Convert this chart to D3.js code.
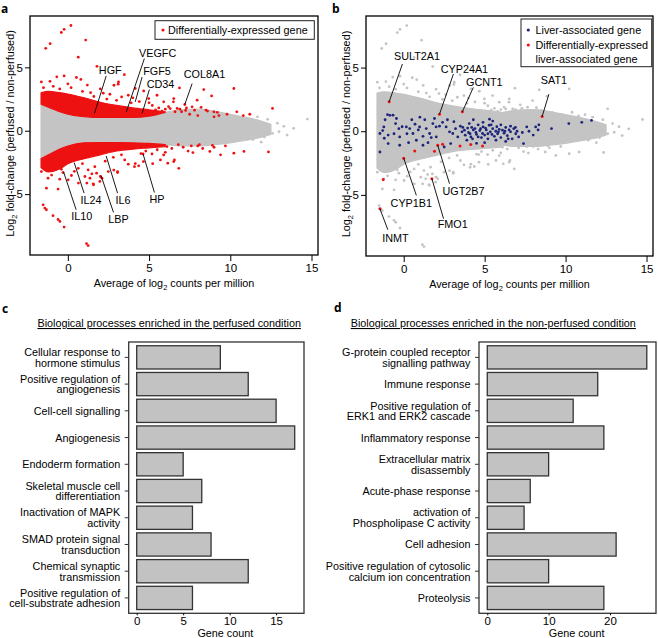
<!DOCTYPE html>
<html><head><meta charset="utf-8">
<script src="https://cdn.jsdelivr.net/npm/d3@7"></script>
<style>
body{margin:0;background:#fff;}
svg text{font-family:"Liberation Sans",Arial,sans-serif;fill:#000;}
</style></head><body>
<svg id="chart" width="658" height="638"></svg>
<script>
// ---------------- DATA ----------------
// Dense cloud of non-DE genes (envelope of log2FC vs average log2 CPM)
const coreX     = [-1.65,-1.2,-0.4,0.6,1.7,3,4,5,6,7,8,9,10,11,11.8,12.5];
const coreUpper = [2.1,1.85,1.45,1.18,1.05,1.05,1.05,1.15,1.45,1.65,1.7,1.55,1.3,1.05,0.8,0.5];
const coreLower = [-2.2,-1.9,-1.38,-1.0,-0.93,-0.93,-0.95,-1.0,-1.1,-1.2,-1.2,-1.1,-0.95,-0.75,-0.55,-0.3];
// Dense band of up-regulated DE genes
const upX   = [-1.65,-1.2,-0.5,0,1,2,3,4,5,6];
const upTop = [3.0,3.1,3.0,2.9,2.6,2.25,2.0,1.8,1.65,1.5];
const upBot = [2.1,1.85,1.5,1.3,1.12,1.05,1.05,1.05,1.15,1.45];
// Dense band of down-regulated DE genes
const loX   = [-1.65,-1.2,-0.5,0,1,2,3,4,5,6];
const loTop = [-2.2,-1.9,-1.45,-1.2,-0.95,-0.93,-0.93,-0.95,-1.0,-1.1];
const loBot = [-2.9,-3.25,-3.0,-2.6,-2.2,-1.9,-1.6,-1.45,-1.35,-1.25];
// Sparse DE genes (x: avg log2 CPM, y: log2 FC)
const deX = [0.19,-0.23,-0.4,1.1,-1.09,-1.36,0.64,1.79,3.48,-0.68,-0.23,0.53,0.8,-1.63,3.1,2.84,3.12,4.15,4.67,
  2.18,2.59,3.72,3.31,4.98,5.49,5.9,6.52,6.5,6.87,8.37,10.22,8.85,7.2,7.96,7.65,8.2,8.5,8.99,9.3,7.25,6.73,6.2,12.6,10.4,
  -1.5,-0.9,-0.5,0.2,0.9,1.4,1.6,2.4,3.0,3.9,4.4,5.2,5.6,1.2,-1.1,0.0,2.0,4.0,5.0,6.0,7.0,7.5,8.0,9.8,9.0,10.8,11.2,
  1.15,1.25,-1.52,-1.42,-1.32,-0.91,-0.6,-0.49,-0.23,
  -1.63,-1.22,-0.5,-0.6,-1.32,0.02,0.22,1.05,1.36,1.56,1.77,1.97,2.49,3.06,1.66,0.64,1.25,-0.4,-0.91,1.48,2.1,1.17,1.58,0.65,2.0,2.83,3.06,
  3.72,4.1,4.15,4.36,4.65,5.22,5.18,5.7,5.9,6.15,6.52,6.56,6.83,7.7,8.74,9.4,10.22,10.84,12.35,4.63,
  -1.0,-0.3,0.4,0.9,2.3,2.8,3.3,3.5,4.5,4.8,5.5,6.0,6.4,7.1,7.4,8.0,8.3,9.0,9.7,
  5.4,5.8,6.3,6.6,6.9,7.3,7.8,8.6,9.2,5.6,6.1,6.8,7.6,8.1,8.9];
const deY = [8.3,8.0,7.75,7.15,6.87,6.5,5.8,5.08,4.42,4.25,4.32,4.2,4.05,3.85,3.67,3.59,3.85,3.33,3.14,
  2.96,2.88,2.8,2.67,2.54,2.8,2.28,2.54,2.28,3.38,3.25,3.33,2.75,2.07,2.41,1.89,1.85,1.63,1.49,1.2,1.6,1.76,1.9,1.76,1.49,
  3.4,3.5,3.3,3.4,3.1,3.0,2.7,2.5,2.4,2.2,2.3,2.0,1.8,3.6,3.9,3.7,3.3,2.6,2.2,1.7,1.5,1.3,1.2,1.3,1.1,1.2,1.3,
  -8.9,-9.06,-5.84,-6.1,-6.23,-6.7,-7.0,-7.15,-7.6,
  -3.22,-3.74,-3.82,-4.6,-4.53,-3.87,-3.53,-3.61,-3.74,-4.19,-3.35,-4.0,-3.22,-3.22,-2.83,-2.96,-3.09,-3.04,-3.09,-3.4,-3.74,-4.13,-4.26,-4.13,-3.61,-3.1,-3.3,
  -2.64,-2.83,-2.59,-2.77,-2.43,-2.6,-1.83,-2.3,-1.91,-2.56,-2.43,-2.3,-2.96,-1.72,-1.63,-1.9,-1.77,-1.63,-1.67,-1.83,
  -3.5,-3.3,-3.2,-2.6,-2.4,-2.1,-1.9,-2.3,-1.8,-1.6,-1.5,-1.7,-1.4,-1.3,-1.6,-1.2,-1.4,-1.3,-1.2,
  1.65,1.55,1.75,1.5,1.7,1.8,1.62,1.55,1.45,-1.15,-1.25,-1.1,-1.2,-1.1,-1.15];
// Sparse non-DE genes at high expression
const grayX = [11.67,12.07,13.0,13.5,13.9,14.75,12.6,12.3,11.4,12.9,11.9,13.3,12.1,11.2];
const grayY = [1.1,0.45,-0.08,-0.34,0.19,0.92,-0.2,0.9,-0.7,0.6,-0.9,0.35,-0.5,0.3];
// Liver-associated genes
const liverX = [-1.47,-1.3,-1.23,-1.0,-0.85,-0.66,-0.96,-1.2,-0.5,-0.45,-0.25,-0.3,-0.6,-0.96,-0.25,-1.47,-0.1,-1.15,
  0.16,0.37,0.2,0.57,0.78,0.98,1.19,1.39,1.6,1.19,1.5,0.5,0.9,1.9,2.0,2.21,2.01,1.8,0.3,1.0,0.7,1.3,1.7,
  2.62,2.83,2.5,2.9,3.03,3.34,3.2,3.75,3.8,4.05,3.9,3.5,2.4,2.7,3.1,3.6,3.95,4.2,
  4.1,4.25,4.4,4.46,4.6,4.7,4.87,4.9,5.0,5.1,5.2,5.28,5.35,5.5,5.6,5.69,5.75,5.8,5.9,6.0,6.1,6.2,6.3,6.4,6.51,6.6,6.7,6.8,6.92,7.0,7.1,
  4.3,4.9,5.5,5.0,4.5,6.3,5.3,4.6,6.0,5.7,6.9,7.33,7.4,7.6,7.74,8.0,8.15,8.35,8.3,9.13,10.2,11.0,11.6,5.2,4.8,6.6,
  4.0,4.3,4.5,4.75,5.05,5.45,5.85,6.25,6.45,5.4,3.65,4.15];
const liverY = [-0.18,0.05,0.34,1.3,1.25,1.26,-0.3,-0.55,0.6,1.0,-0.45,0.2,-0.2,-0.97,-1.1,-1.63,0.35,0.9,
  0.34,0.21,-0.2,-0.18,-0.71,0.34,-0.4,0.21,-0.18,-1.1,-0.9,0.9,0.1,1.0,0.34,0.4,-0.45,0.6,-0.9,1.1,0.55,0.9,-0.5,
  0.34,-0.05,-1.24,-0.97,-0.18,-0.45,0.2,0.08,-0.31,0.6,-0.7,0.4,0.7,0.9,0.75,-0.05,0.25,0.3,
  -0.2,-0.6,0.21,-0.1,-0.45,0.05,-0.18,0.34,-0.3,0.1,-0.6,0.47,-0.05,0.2,-0.4,0.0,0.35,-0.2,0.15,-0.5,0.08,-0.15,0.3,-0.35,0.1,-0.05,-0.6,0.2,-0.2,0.0,-0.45,
  0.9,0.7,0.8,-0.9,-0.95,-0.8,0.95,0.5,0.5,-0.7,0.3,-0.1,-0.97,0.34,0.0,-0.3,0.34,0.5,0.1,0.21,0.6,0.7,0.85,-0.2,-0.5,0.4,
  -0.1,0.1,-0.25,0.2,0.25,-0.25,-0.05,0.0,-0.6,0.5,0.3,-0.45];
// Differentially-expressed liver-associated genes
const liverDeX = [-0.9,2.21,3.62,8.55,0.68,0.0,1.9,2.1,2.4,3.48,4.14,4.87,-1.27,1.74,-1.47];
const liverDeY = [2.31,1.34,1.52,1.15,-1.55,-2.12,-1.57,-1.1,-1.02,-1.16,-1.05,-1.16,-3.8,-3.73,-6.09];
// Gene annotations: gene, point (x,y), leader end (x,y), label centre (x,y)
const annA = [
  ["HGF",1.64,1.37,2.36,4.32,2.61,4.82],["VEGFC",3.6,1.49,4.71,5.69,5.53,6.13],
  ["FGF5",4.15,2.28,4.57,4.24,5.49,4.71],["CD34",4.57,1.37,5.02,3.25,5.7,3.67],
  ["COL8A1",7.2,2.07,7.65,3.72,8.41,4.45],["IL24",0.39,-2.51,1.0,-4.92,1.42,-5.5],
  ["IL10",-0.27,-3.22,0.51,-6.23,0.86,-6.7],["IL6",2.36,-1.99,3.06,-4.92,3.4,-5.5],
  ["LBP",2.04,-3.53,2.81,-6.44,3.12,-6.96],["HP",4.63,-1.83,5.33,-4.87,5.49,-5.39]];
const annB = [
  ["SULT2A1",-0.9,2.31,-0.08,5.28,0.82,5.9],["CYP24A1",2.21,1.34,3.07,4.49,3.75,4.86],
  ["GCNT1",3.62,1.52,4.3,3.44,4.98,3.88],["SAT1",8.55,1.15,8.97,2.91,9.28,4.02],
  ["CYP1B1",0.0,-2.12,0.78,-5.04,0.47,-5.61],["UGT2B7",2.1,-1.1,2.83,-4.12,3.69,-4.7],
  ["FMO1",1.74,-3.73,2.46,-6.87,3.03,-7.32],["INMT",-1.47,-6.09,-0.98,-7.74,-0.51,-8.4]];
const scatterXTicks = [0,5,10,15];
const scatterYTicks = [-5,0,5];
// Enrichment bar charts
const catsC = ["Cellular response to\nhormone stimulus","Positive regulation of\nangiogenesis","Cell-cell signalling",
  "Angiogenesis","Endoderm formation","Skeletal muscle cell\ndifferentiation","Inactivation of MAPK\nactivity",
  "SMAD protein signal\ntransduction","Chemical synaptic\ntransmission","Positive regulation of\ncell-substrate adhesion"];
const valsC = [9,12,15,17,5,7,6,8,12,6];
const ticksC = [0,5,10,15];
const catsD = ["G-protein coupled receptor\nsignalling pathway","Immune response","Positive regulation of\nERK1 and ERK2 cascade",
  "Inflammatory response","Extracellular matrix\ndisassembly","Acute-phase response","activation of\nPhospholipase C activity",
  "Cell adhesion","Positive regulation of cytosolic\ncalcium ion concentration","Proteolysis"];
const valsD = [26,18,14,19,10,7,6,21,10,19];
const ticksD = [0,10,20];

// ---------------- DRAWING ----------------
const RED="#ee1111", GRAY="#c4c4c4", BLUE="#1b237a";
const FS=10.8;
const svg=d3.select("#chart");

function panelLetter(t,x,y){
  svg.append("text").attr("x",x).attr("y",y).text(t)
    .style("font-family","'Open Sans',sans-serif").attr("font-weight","bold").attr("font-size",12);
}

function styleAxis(ax){
  ax.select(".domain").remove();
  ax.attr("font-family",null).attr("font-size",null);
  ax.selectAll("text").attr("font-size",11.5).attr("fill","#000");
  ax.selectAll("line").attr("stroke","#000").attr("stroke-width",1);
}

function scatter(p, mode){
  const x=d3.scaleLinear().domain([-2.33,15.4]).range([p.x0,p.x1]);
  const y=d3.scaleLinear().domain([-9.8,9.05]).range([p.y1,p.y0]);
  const g=svg.append("g");
  const cid="clip"+mode;
  svg.append("clipPath").attr("id",cid).append("rect")
    .attr("x",p.x0).attr("y",p.y0).attr("width",p.x1-p.x0).attr("height",p.y1-p.y0);
  const plot=g.append("g").attr("clip-path",`url(#${cid})`);
  const area=(xs,tops,bots)=>d3.area().x(i=>x(xs[i])).y0(i=>y(bots[i])).y1(i=>y(tops[i]))
      .curve(d3.curveMonotoneX)(d3.range(xs.length));
  const bandCol = mode==="a"?RED:GRAY;
  const drawArea=(d,c)=>plot.append("path").attr("d",d).attr("fill",c).attr("stroke",c)
      .attr("stroke-width",1.2).attr("stroke-linejoin","round");
  drawArea(area(coreX,coreUpper,coreLower),GRAY);
  drawArea(area(upX,upTop,upBot),bandCol);
  drawArea(area(loX,loTop,loBot),bandCol);
  const dots=(xs,ys,c,r)=>plot.append("g").selectAll("circle").data(d3.range(xs.length)).join("circle")
      .attr("cx",i=>x(xs[i])).attr("cy",i=>y(ys[i])).attr("r",r).attr("fill",c);
  dots(grayX,grayY,GRAY,1.4);
  dots(deX,deY,bandCol,1.4);
  if(mode==="b"){
    dots(liverX,liverY,BLUE,1.4);
    dots(liverDeX,liverDeY,RED,1.5);
  }
  g.append("rect").attr("x",p.x0).attr("y",p.y0).attr("width",p.x1-p.x0).attr("height",p.y1-p.y0)
    .attr("fill","none").attr("stroke","#000").attr("stroke-width",1.3);
  const bx=g.append("g").attr("transform",`translate(0,${p.y1})`)
    .call(d3.axisBottom(x).tickValues(scatterXTicks).tickSize(6).tickPadding(3).tickFormat(d=>String(d)));
  styleAxis(bx);
  const ly=g.append("g").attr("transform",`translate(${p.x0},0)`)
    .call(d3.axisLeft(y).tickValues(scatterYTicks).tickSize(5).tickPadding(2).tickFormat(d=>String(d)));
  styleAxis(ly);
  const xt=g.append("text").attr("x",(p.x0+p.x1)/2).attr("y",p.y1+32).attr("text-anchor","middle").attr("font-size",FS);
  xt.append("tspan").text("Average of log");
  xt.append("tspan").text("2").attr("font-size",7.5).attr("dy",3);
  xt.append("tspan").text(" counts per million").attr("dy",-3);
  const yt=g.append("text").attr("transform",`translate(${p.x0-16},${(p.y0+p.y1)/2-2}) rotate(-90)`)
    .attr("text-anchor","middle").attr("font-size",FS);
  yt.append("tspan").text("Log");
  yt.append("tspan").text("2").attr("font-size",7.5).attr("dy",3);
  yt.append("tspan").text(" fold-change (perfused / non-perfused)").attr("dy",-3);
  const ann = mode==="a"?annA:annB;
  ann.forEach(a=>{
    g.append("line").attr("x1",x(a[1])).attr("y1",y(a[2])).attr("x2",x(a[3])).attr("y2",y(a[4]))
      .attr("stroke","#000").attr("stroke-width",0.9);
    g.append("text").attr("x",x(a[5])).attr("y",y(a[6])).attr("text-anchor","middle")
      .attr("dominant-baseline","central").attr("font-size",FS).text(a[0]);
  });
  return {x,y,g};
}

panelLetter("a",1,13);
panelLetter("b",332,13);
panelLetter("c",2,313);
panelLetter("d",334,312);

const A=scatter({x0:30,x1:318,y0:16,y1:255},"a");
const B=scatter({x0:366,x1:653,y0:16,y1:256},"b");

A.g.append("rect").attr("x",155).attr("y",20.7).attr("width",159.3).attr("height",18.6)
  .attr("fill","#fff").attr("stroke","#222").attr("stroke-width",1);
A.g.append("circle").attr("cx",163).attr("cy",30).attr("r",1.6).attr("fill",RED);
A.g.append("text").attr("x",168).attr("y",30).attr("dominant-baseline","central").attr("font-size",FS)
  .text("Differentially-expressed gene");
B.g.append("rect").attr("x",521).attr("y",19).attr("width",130.7).attr("height",47.7)
  .attr("fill","#fff").attr("stroke","#222").attr("stroke-width",1);
B.g.append("circle").attr("cx",528.3).attr("cy",30).attr("r",1.6).attr("fill",BLUE);
B.g.append("text").attr("x",535.5).attr("y",30).attr("dominant-baseline","central").attr("font-size",FS)
  .text("Liver-associated gene");
B.g.append("circle").attr("cx",528.3).attr("cy",45).attr("r",1.6).attr("fill",RED);
B.g.append("text").attr("x",535.5).attr("y",45).attr("dominant-baseline","central").attr("font-size",FS)
  .text("Differentially-expressed");
B.g.append("text").attr("x",535.5).attr("y",58.7).attr("dominant-baseline","central").attr("font-size",FS)
  .text("liver-associated gene");

function bars(p, cats, vals, dom, ticks, title, titleX){
  const x=d3.scaleLinear().domain(dom).range([p.x0,p.x1]);
  const y=d3.scaleBand().domain(cats).range([p.y0,p.y1]).paddingInner(0.13).paddingOuter(0.14);
  const g=svg.append("g");
  g.selectAll("rect.bar").data(cats).join("rect").attr("class","bar")
    .attr("x",x(0)).attr("y",c=>y(c)).attr("width",(c,i)=>x(vals[i])-x(0)).attr("height",y.bandwidth())
    .attr("fill","#c2c2c2").attr("stroke","#333").attr("stroke-width",1.3);
  g.append("rect").attr("x",p.x0).attr("y",p.y0).attr("width",p.x1-p.x0).attr("height",p.y1-p.y0)
    .attr("fill","none").attr("stroke","#333").attr("stroke-width",1.3);
  const la=g.append("g").attr("transform",`translate(${p.x0},0)`)
    .call(d3.axisLeft(y).tickSize(4).tickPadding(4).tickFormat(""));
  la.select(".domain").remove();
  la.selectAll("line").attr("stroke","#333");
  cats.forEach(c=>{
    const lines=c.split("\n");
    const cy=y(c)+y.bandwidth()/2;
    lines.forEach((t,i)=>{
      g.append("text").attr("x",p.x0-8.5).attr("y",cy+(i-(lines.length-1)/2)*10.6)
        .attr("text-anchor","end").attr("dominant-baseline","central").attr("font-size",FS).text(t);
    });
  });
  const bx=g.append("g").attr("transform",`translate(0,${p.y1})`)
    .call(d3.axisBottom(x).tickValues(ticks).tickSize(2).tickPadding(2).tickFormat(d=>String(d)));
  styleAxis(bx);
  g.append("text").attr("x",(x(0)+p.x1)/2+ (p.x1-x(0))*0.03).attr("y",637).attr("text-anchor","middle")
    .attr("font-size",FS).text("Gene count");
  g.append("text").attr("x",titleX).attr("y",327).attr("text-anchor","middle").attr("font-size",FS)
    .attr("text-decoration","underline").text(title);
}
bars({x0:128.7,x1:304,y0:342,y1:613.3},catsC,valsC,[-0.86,18.0],ticksC,
  "Biological processes enriched in the perfused condition",169.2);
bars({x0:479,x1:656,y0:342,y1:613.3},catsD,valsD,[-1.35,27.5],ticksD,
  "Biological processes enriched in the non-perfused condition",493.3);
</script>
</body></html>
